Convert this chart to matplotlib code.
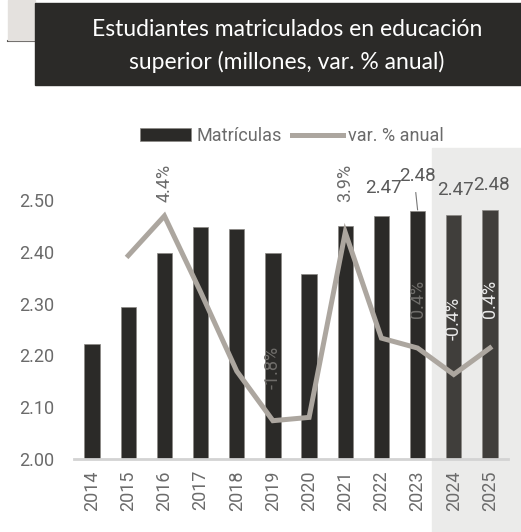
import numpy as np
import matplotlib
matplotlib.use('Agg')
import matplotlib.pyplot as plt
from matplotlib.patches import Rectangle

years = ['2014', '2015', '2016', '2017', '2018', '2019', '2020',
         '2021', '2022', '2023', '2024', '2025']
matriculas = [2.222, 2.293, 2.398, 2.448, 2.444, 2.398, 2.357,
              2.450, 2.469, 2.479, 2.470, 2.480]
var_years = years[1:]
var_pct = [3.2, 4.4, 2.1, -0.3, -1.8, -1.7, 3.9, 0.7, 0.4, -0.4, 0.4]
yticks = [2.00, 2.10, 2.20, 2.30, 2.40, 2.50]

plt.rcParams['font.family'] = ['Roboto', 'DejaVu Sans']

fig = plt.figure(figsize=(5.21, 5.32), dpi=100)
W, H = 521.0, 532.0

# header decoration
fig.patches.append(Rectangle((8 / W, 1 - 40 / H), 27 / W, 40 / H, transform=fig.transFigure,
                             color='#e4e1de', zorder=-2))
fig.lines.append(plt.Line2D([8 / W, 35 / W], [1 - 41 / H, 1 - 41 / H], transform=fig.transFigure,
                            color='#5a5856', lw=1.5, zorder=-2))
fig.patches.append(Rectangle((35 / W, 1 - 85 / H), 1 - 35 / W, 82 / H, transform=fig.transFigure,
                             color='#2b2a28', zorder=-1))
fig.text(287 / W, 1 - 29 / H, 'Estudiantes matriculados en educación', color='white',
         ha='center', va='center', fontsize=16.5, family=['Lato', 'DejaVu Sans'])
fig.text(287 / W, 1 - 62 / H, 'superior (millones, var. % anual)', color='white',
         ha='center', va='center', fontsize=16.5, family=['Lato', 'DejaVu Sans'])

# projection shading
fig.patches.append(Rectangle((432 / W, 0), 1 - 432 / W, (H - 148) / H, transform=fig.transFigure,
                             color='#ebebea', zorder=-2))

ax = fig.add_axes([74 / W, (H - 459) / H, 434 / W, (459 - 174) / H])
ax.set_facecolor('none')
x = np.arange(len(years))
colors = ['#2b2a28'] * 10 + ['#403e3b'] * 2
ax.bar(x, matriculas, width=0.42, color=colors, edgecolor='#8a8884', linewidth=0.5,
       zorder=2, label='Matrículas')
ax.set_ylim(2.0, 2.55)
ax.set_xlim(-0.5, 11.5)
ax.set_yticks(yticks)
ax.set_yticklabels([f'{v:.2f}' for v in yticks], fontsize=13, color='#6b6b6b')
ax.set_xticks(x)
ax.set_xticklabels(years, rotation=90, fontsize=13, color='#6b6b6b')
ax.tick_params(axis='y', length=0, pad=14)
ax.tick_params(axis='x', length=0, pad=8)
for s in ['top', 'right', 'left']:
    ax.spines[s].set_visible(False)
ax.spines['bottom'].set_color('#d3d3d3')
ax.spines['bottom'].set_linewidth(2)

# value labels on bars
lab_pos = {8: (8.06, 2.523), 9: (9.0, 2.546), 10: (10.05, 2.519), 11: (11.05, 2.529)}
for i, (lx, ly) in lab_pos.items():
    ax.text(lx, ly, f'{matriculas[i]:.2f}', ha='center', va='center',
            fontsize=13.5, color='#5a5a5a', clip_on=False)
ax.plot([8.95, 9.0], [2.514, matriculas[9] + 0.002], color='#777777', lw=0.8)

ax2 = ax.twinx()
ax2.set_ylim(-2.96, 5.67)
ax2.axis('off')
xv = np.arange(1, len(years))
ax2.plot(xv, var_pct, color='#aca69f', lw=3.6, solid_joinstyle='miter', zorder=3,
         label='var. % anual')

# variation labels
var_labels = [(2, 5.4, '4.4%', '#6b6b6b'), (7, 5.4, '3.9%', '#6b6b6b'),
              (5, -0.2, '-1.8%', '#6f6d6a'), (9, 1.9, '0.4%', '#6f6d6a'),
              (10, 1.3, '-0.4%', '#e8e8e8'), (11, 1.9, '0.4%', '#e8e8e8')]
for i, ly, t, c in var_labels:
    ax2.text(i, ly, t, rotation=90, ha='center', va='center', fontsize=13, color=c,
             zorder=4, clip_on=False)

h1, l1 = ax.get_legend_handles_labels()
h2, l2 = ax2.get_legend_handles_labels()
fig.legend(h1 + h2, l1 + l2, loc='center', bbox_to_anchor=(292 / W, 1 - 136 / H), ncol=2,
           frameon=False, fontsize=13, handlelength=2.8, handletextpad=0.3, columnspacing=0.6,
           labelcolor='#6b6b6b', borderpad=0.2)

fig.savefig('out.png', dpi=100)
